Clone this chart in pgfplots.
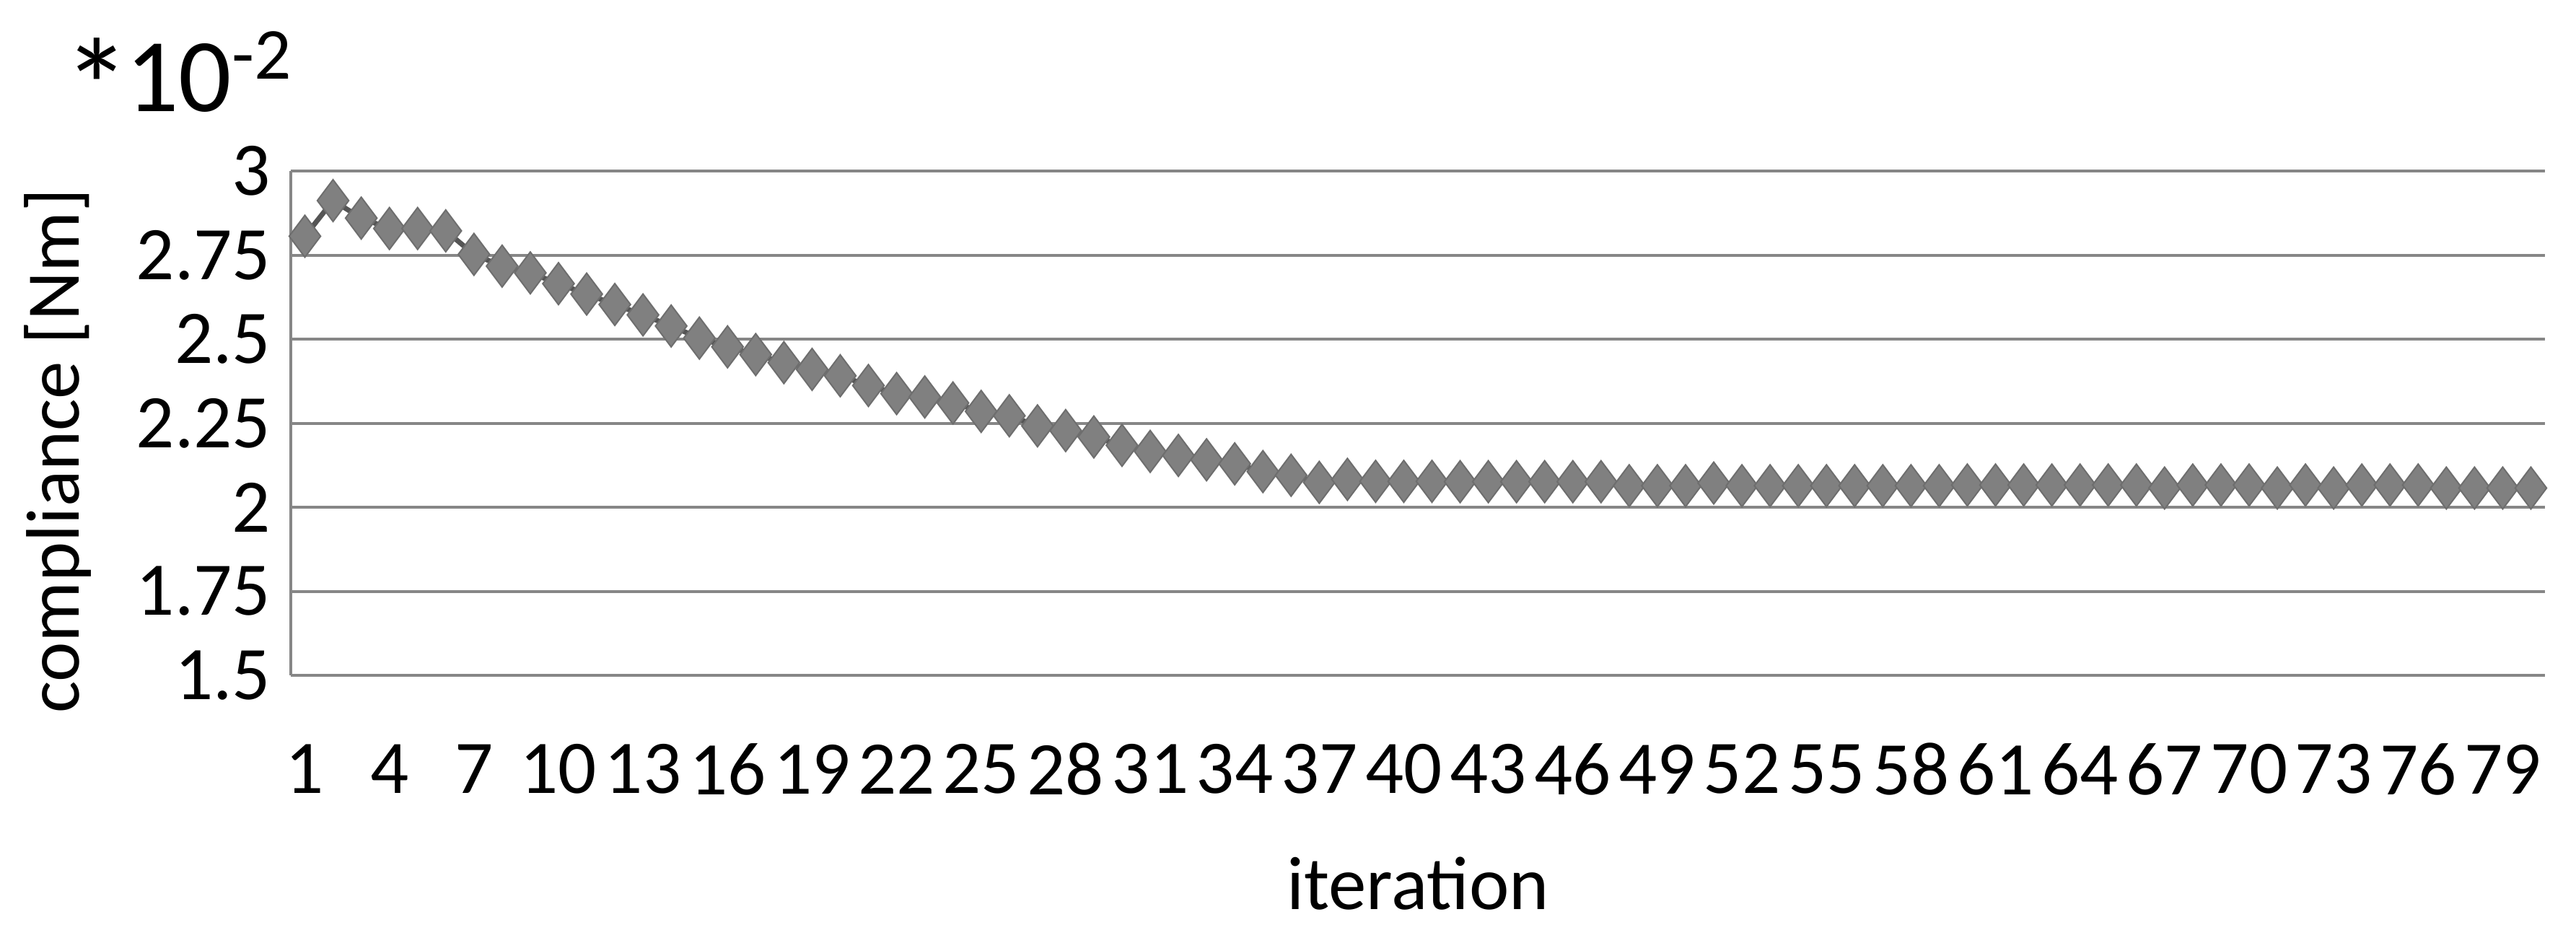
\documentclass[border=0pt]{standalone}
\usepackage{fontspec}
\setmainfont{Carlito}
\usepackage{pgfplots}
\pgfplotsset{compat=1.18}
\usepackage{pgfplotstable}

\definecolor{gridgray}{HTML}{868686}
\definecolor{markfill}{HTML}{808080}
\definecolor{markdraw}{HTML}{6E6E6E}
\definecolor{linegray}{HTML}{555555}

\pgfplotstableread{
it  c
1  2.806
2  2.912
3  2.860
4  2.829
5  2.829
6  2.822
7  2.752
8  2.717
9  2.697
10 2.665
11 2.634
12 2.603
13 2.572
14 2.539
15 2.503
16 2.477
17 2.454
18 2.430
19 2.410
20 2.391
21 2.362
22 2.338
23 2.328
24 2.310
25 2.285
26 2.272
27 2.242
28 2.228
29 2.209
30 2.184
31 2.166
32 2.154
33 2.141
34 2.129
35 2.106
36 2.095
37 2.074
38 2.083
39 2.077
40 2.077
41 2.077
42 2.076
43 2.076
44 2.076
45 2.076
46 2.076
47 2.076
48 2.064
49 2.064
50 2.064
51 2.072
52 2.064
53 2.064
54 2.064
55 2.064
56 2.064
57 2.064
58 2.064
59 2.064
60 2.066
61 2.066
62 2.066
63 2.066
64 2.066
65 2.066
66 2.066
67 2.057
68 2.066
69 2.066
70 2.066
71 2.057
72 2.066
73 2.057
74 2.066
75 2.066
76 2.066
77 2.057
78 2.057
79 2.057
80 2.057
}\compliance

\begin{document}
\begin{tikzpicture}
\begin{axis}[
    name=ax,
    scale only axis,
    width=624.8pt, height=139.8pt,
    xmin=0.5, xmax=80.5,
    ymin=1.5, ymax=3,
    xtick={1,4,...,79},
    ytick={1.5,1.75,2,2.25,2.5,2.75,3},
    yticklabels={1.5,1.75,2,2.25,2.5,2.75,3},
    /pgf/number format/assume math mode=true,
    major tick length=0pt,
    axis x line*=bottom, axis y line*=left,
    axis line style={gridgray, line width=0.8pt},
    ymajorgrids,
    grid style={gridgray, line width=0.8pt},
    tick label style={font=\fontsize{21}{25}\selectfont, inner sep=0pt},
    xticklabel style={anchor=center, yshift=-26pt},
    yticklabel style={anchor=east, xshift=-5.4pt},
    label style={font=\fontsize{21}{25}\selectfont},
    xlabel={iteration},
    xlabel style={at={(axis description cs:0.5,0)}, anchor=center, yshift=-57.8pt},
    ylabel={compliance [Nm]},
    ylabel style={at={(axis description cs:-0.1034,0.445)}, anchor=center},
    clip=false,
]
\addplot[linegray, line width=1.4pt, mark=diamond*, mark size=5.8pt,
    mark options={fill=markfill, draw=markdraw, line width=0.4pt}]
    table[x=it, y=c] {\compliance};
\node[font=\fontsize{29}{33}\selectfont, anchor=center, inner sep=0pt]
    at (axis description cs:-0.05,1.175)
    {\raisebox{-0.22em}{\scalebox{1.3}{*}}\kern-0.05em 10\textsuperscript{-2}};
\end{axis}
\pgfresetboundingbox
\path ([xshift=-80.6pt, yshift=-70.4pt]ax.south west)
    rectangle ([xshift=8.6pt, yshift=47.4pt]ax.north east);
\end{tikzpicture}
\end{document}
